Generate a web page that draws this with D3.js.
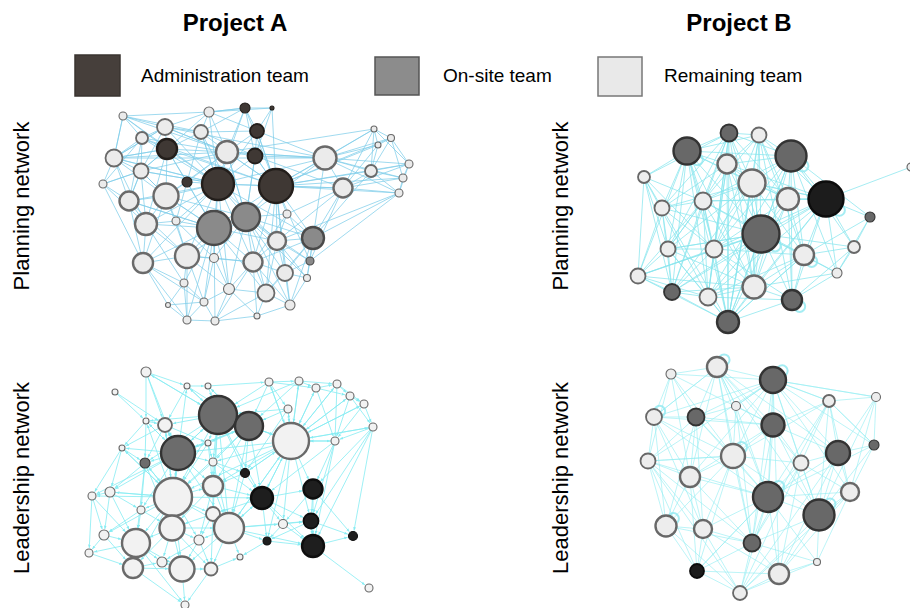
<!DOCTYPE html>
<html>
<head>
<meta charset="utf-8">
<script src="https://cdn.jsdelivr.net/npm/d3@7"></script>
<style>
  html, body { margin: 0; padding: 0; background: #ffffff; }
  svg { display: block; }
  text { font-family: "Liberation Sans", Arial, Helvetica, sans-serif; fill: #000; }
</style>
</head>
<body>
<svg id="chart" width="910" height="608"></svg>
<script>
// ---- Data ---------------------------------------------------------------
// Column headers, row labels and team legend
const projects = ["Project A", "Project B"];
const networks = ["Planning network", "Leadership network"];
const teams = ["Administration team", "On-site team", "Remaining team"];

// Node layouts per panel: [x, y, size, team] in panel layout units
const nodesAPlan = [
  [23,16,4,"R"],[109,12,5,"R"],[145,8,5,"A"],[172,8,2,"A"],[65,27,8,"R"],
  [101,32,7,"R"],[157,31,7,"A"],[42,38,6,"R"],[67,49,10,"A"],[127,52,11,"R"],
  [155,56,7.5,"A"],[225,58,11.5,"R"],[14,58,8.5,"R"],[274,29,3,"R"],[291,38,3.5,"R"],
  [278,45,3,"R"],[41,71,7.5,"R"],[87,82,5,"A"],[118,84,16,"A"],[176,86,17,"A"],
  [271,71,6,"R"],[309,64,4,"R"],[303,78,4,"R"],[299,93,4,"R"],[3,84,4,"R"],
  [66,96,12.5,"R"],[243,88,9.5,"R"],[29,101,9.5,"R"],[146,117,14,"O"],[187,114,4,"R"],
  [114,128,17,"O"],[46,124,11,"R"],[76,121,4,"R"],[177,141,9,"R"],[213,138,11,"O"],
  [87,156,12,"R"],[114,158,4.5,"R"],[43,163,10,"R"],[153,162,9.5,"R"],[210,161,4,"O"],
  [185,173,8,"R"],[207,178,3.5,"R"],[84,183,4,"R"],[129,189,5.5,"R"],[166,193,8.5,"R"],
  [104,202,4,"R"],[68,205,2.5,"R"],[190,205,5,"R"],[157,216,3,"R"],[87,220,4,"R"],
  [115,221,4,"R"]
];
const linksAPlan =
  "0>4 7 12 8 1 5 9;1>2 5 4 9 8 6 3;2>3 6 1 9 10 5 18;3>6 10 19;4>7 8 5 9 12 16 18 11;" +
  "5>9 8 6 18 10 17;6>10 9 19 18 11;7>12 16 8 24 27 9 19;8>9 17 18 16 12 25 30 19 31;" +
  "9>18 19 10 11 17 28 25 4 12 16;10>19 11 18 28 26;11>19 13 14 15 20 26 21 22 23 34 18 9 28 12;" +
  "12>24 27 16 25 31 18 4 8 0;13>14 15 20 26 21 9 19;14>15 21 22 20 19;15>20 26 19;" +
  "16>27 25 18 8 31 24;17>18 25 30 32;18>19 28 30 25 31 35 33 26 34 0 1 5 7 12 16 27 37 43 36 38 32;" +
  "19>28 26 34 33 20 29 30 22 23 2 6 9 10 21 38 40 44 47 39;20>21 22 23 26 34;" +
  "21>22 23 26;22>23 26;23>26 34 39 33;24>27 31 37 16;25>27 31 30 32 35 28 37 16;26>34 29 39 33;" +
  "27>31 37 30 35 16;28>30 33 38 29 34 35 36 44 40 9 10 5 43 47 39 41;29>33 34 38;" +
  "30>35 31 36 38 43 37 33 42 25 27 44 45 49 50 32;" +
  "31>37 35 32 42;32>35 36;33>34 38 40 44 39 41;34>39 40 41 44 38 47;35>37 42 36 43 45 49 38;" +
  "36>43 38 45;37>42 46 49 45;38>44 43 40 47 48 50;39>41 40;40>41 47 44;41>47;42>46 49 45;" +
  "43>45 50 44 48;44>47 48 50;45>49 50 46;46>49;47>48;48>50;49>50";

const nodesBPlan = [
  [99,13,8.5,"O"],[129,15,7.5,"R"],[57,31,13.5,"O"],[161,36,15.5,"O"],[97,44,9.5,"R"],
  [122,63,13.5,"R"],[14,57,6,"R"],[158,79,11,"R"],[196,79,17.5,"A"],[281,47,4,"R"],
  [240,97,5,"O"],[32,88,7.5,"R"],[73,81,8.5,"R"],[131,114,18.5,"O"],[38,129,7.5,"R"],
  [84,129,8.5,"R"],[174,135,10,"R"],[224,127,6,"R"],[207,153,5,"R"],[8,156,7.5,"R"],
  [42,172,8,"O"],[78,177,8.5,"R"],[124,167,11.5,"R"],[162,180,10,"O"],[98,202,11,"O"]
];
const linksBPlan =
  "0>1 2 3 4 5 12 13 15 7 22 6 11 14 20 21 24;1>3 4 5 7 13 8 12 16 2 15 22 24 23;" +
  "2>4 6 11 12 5 13 14 15 21 19 3 24 20 22 7;3>4 5 7 8 13 16 12 22 23 10 15 24 21 18 17;" +
  "4>5 12 13 15 11 7 21 22;5>7 8 12 13 15 16 22 14 20 24;6>11 12 19 14 20 21 15;" +
  "7>8 13 16 12 15 22 23;8>9 10 13 16 17 18 23 22 12 15 7 5 4 24 20 21;10>17 18 16;" +
  "11>12 14 19 13 15 20 5;12>13 14 15 19 20 21 22 16;13>14 15 16 17 18 19 20 21 22 23 24;" +
  "14>19 20 21 15 24 22 13 12;15>20 21 22 24 16 23;16>17 18 23 22 24 21;17>18 23;18>23 22;" +
  "19>20 21 24 13 15 22;20>21 24 22;21>22 24 23;22>23 24;23>24;24>16 12 11 7 5 4";
const loopsBPlan = [2, 3, 8, 13, 16, 23];

const nodesALead = [
  [66,12,5,"R"],[35,32,3,"R"],[107,26,3,"R"],[128,26,3,"R"],[189,22,4,"R"],
  [219,21,4,"R"],[236,28,4,"R"],[257,24,4,"R"],[270,36,4,"R"],[284,44,4,"R"],
  [293,67,4,"R"],[208,49,4,"R"],[138,55,19,"O"],[169,66,14,"O"],[211,81,18,"R"],
  [255,81,4,"R"],[66,61,3,"R"],[85,65,7,"R"],[98,93,17,"O"],[128,83,3,"R"],
  [42,88,3,"R"],[65,103,5,"O"],[133,102,4,"R"],[165,113,4.5,"A"],[93,137,19,"R"],
  [133,126,10,"R"],[182,138,11,"A"],[233,129,9.5,"A"],[30,132,5,"R"],[12,136,4,"R"],
  [61,150,4,"R"],[133,154,7,"R"],[92,168,12.5,"R"],[149,168,15,"R"],[203,164,4.5,"R"],
  [231,161,7.5,"A"],[24,175,5,"R"],[56,183,14,"R"],[187,181,4,"A"],[119,180,5,"R"],
  [233,186,11,"A"],[273,176,4.5,"A"],[9,193,4,"R"],[53,208,10,"R"],[82,202,5,"R"],
  [102,209,12.5,"R"],[131,209,6.5,"R"],[160,197,3,"R"],[289,228,4,"R"],[105,245,4,"R"]
];
const linksALead =
  "0>16 2 17 12 18;1>17 16;2>12 17 3 13;3>12 13 4;4>13 12 14 5 11 6;5>14 13 6 7 12;" +
  "6>14 15 8 7;7>8 14 15 9;8>9 15 14 10;9>10 15 14;10>15 14 27 35 40 41;11>13 14 12 23;" +
  "12>13 17 18 19 16 22 14 25 24 23 26 2 0 21 31 33;13>14 23 18 19 25 26 22 24 33 12 3;" +
  "14>15 23 26 27 25 33 22 11 35 18 24 4 5 6 7 8 9 10 12 34 38;15>27 35 40 14 26;" +
  "16>17 20 21 18;17>18 20 21 19 24;18>19 20 21 22 24 25 28 29 30 32 13 33 12 17 16 2;" +
  "19>22 25 24;20>21 28 29 24;21>24 28 30 32 37;22>25 23 26 24 33;23>26 25 33 14;" +
  "24>25 28 29 30 31 32 33 36 37 39 26 43 45 17 18 16 20 21;25>26 31 33 32 39;" +
  "26>27 33 34 35 38 40 31 14;27>35 40 41 34;28>29 30 36 37 24;29>36 42 37;30>32 37 36;" +
  "31>33 39 32 46;32>33 37 39 43 44 45 46;33>34 38 39 45 46 47 26 14 35 40;34>35 38 40;35>40 41 38;" +
  "36>37 42 43;37>42 43 44 45 49;38>40 47;39>45 46 44;40>41 48;42>43;43>44 45 49;44>45;" +
  "45>46 49;46>47 49";

const nodesBLead = [
  [41,14,5,"R"],[87,7,10,"R"],[143,20,13,"O"],[246,37,4.5,"R"],[199,41,6,"R"],
  [106,46,4.5,"R"],[24,57,8,"R"],[66,57,8.5,"O"],[143,65,11.5,"O"],[244,85,5,"O"],
  [208,93,12,"O"],[103,96,12,"R"],[171,103,7.5,"R"],[18,101,7.5,"R"],[60,117,10,"R"],
  [138,137,15,"O"],[220,132,9,"R"],[189,155,15.5,"O"],[36,166,10.5,"R"],[73,169,9,"R"],
  [122,183,8.5,"O"],[187,202,3.5,"R"],[67,211,7,"A"],[149,214,10,"R"],[110,233,7,"R"]
];
const linksBLead =
  "0>1 6 7 2 11 13 8 14;1>2 5 7 6 8 11 14 12 15 17 20 10;2>4 3 8 5 11 10 12 15 16 17 7 14 13 20 23;" +
  "3>4 9 10 16 2 17;4>8 10 12 9 16 17 15 2 11 20;5>8 11 7 2 15 20 1;6>7 13 11 14 18 8 1 2 15 19;" +
  "7>11 14 13 8 15 19 18;8>11 12 15 10 14 17 20;9>10 16 17 4 2 15;10>12 16 17 15 23;" +
  "11>14 15 12 19 18 20 13 17;12>15 16 17 23 20;13>14 18 19 22 15 20 24 11;" +
  "14>18 19 15 20 22;15>17 19 20 23 24 16 21 22;16>17 21 23;17>20 21 23 24;18>19 22 24 20;" +
  "19>20 22 24 23;20>22 23 24 21;21>23 24;22>24 11 15 23;23>24;24>12 16 10";
const loopsBLead = [1, 2, 6, 11, 15, 17, 18];

// ---- Styling --------------------------------------------------------------
const paletteA = {
  A: { fill: "#3f3834", stroke: "#231e1b" },
  O: { fill: "#8a8a8a", stroke: "#4a4a4a" },
  R: { fill: "#ebebeb", stroke: "#6a6a6a" }
};
const paletteB = {
  A: { fill: "#1c1c1c", stroke: "#0c0c0c" },
  O: { fill: "#686868", stroke: "#333333" },
  R: { fill: "#ededed", stroke: "#686868" }
};
const paletteALead = {
  A: { fill: "#1e1e1e", stroke: "#0e0e0e" },
  O: { fill: "#6c6c6c", stroke: "#333333" },
  R: { fill: "#f2f2f2", stroke: "#6a6a6a" }
};

const panels = [
  { nodes: nodesAPlan, links: linksAPlan, loops: [], ox: 100, oy: 100, w: 320, h: 230,
    pal: paletteA, edge: "#80cde9", edgeOp: 0.75, arrows: false, loopAng: 0 },
  { nodes: nodesBPlan, links: linksBPlan, loops: loopsBPlan, ox: 630, oy: 120, w: 290, h: 220,
    pal: paletteB, edge: "#88e6ee", edgeOp: 0.75, arrows: false, loopAng: 40 },
  { nodes: nodesALead, links: linksALead, loops: [], ox: 80, oy: 360, w: 310, h: 250,
    pal: paletteALead, edge: "#86ecf3", edgeOp: 0.8, arrows: true, loopAng: 0 },
  { nodes: nodesBLead, links: linksBLead, loops: loopsBLead, ox: 630, oy: 360, w: 260, h: 245,
    pal: paletteB, edge: "#98eef2", edgeOp: 0.65, arrows: false, loopAng: -45 }
];

function parseLinks(str) {
  const out = [];
  str.split(";").forEach(part => {
    const [s, ts] = part.split(">");
    ts.trim().split(/\s+/).forEach(t => out.push([+s, +t]));
  });
  return out;
}

const svg = d3.select("#chart");
const defs = svg.append("defs");
defs.append("marker")
  .attr("id", "arrow")
  .attr("viewBox", "0 0 10 10")
  .attr("refX", 10).attr("refY", 5)
  .attr("markerWidth", 3.5).attr("markerHeight", 3.5)
  .attr("orient", "auto")
  .append("path").attr("d", "M0,1 L10,5 L0,9 Z").attr("fill", "#86ecf3");

// ---- Titles, legend, row labels -----------------------------------------
const titleX = [235, 739];
svg.selectAll("text.title").data(projects).join("text")
  .attr("class", "title")
  .attr("x", (d, i) => titleX[i]).attr("y", 31)
  .attr("text-anchor", "middle")
  .style("font-size", "24px").style("font-weight", "bold")
  .text(d => d);

const legendBox = [
  { x: 75, y: 55, w: 45, h: 41, fill: "#463f3b", stroke: "#3a3431", tx: 141 },
  { x: 375, y: 57, w: 44, h: 38, fill: "#8c8c8c", stroke: "#555555", tx: 443 },
  { x: 598, y: 57, w: 44, h: 39, fill: "#e9e9e9", stroke: "#777777", tx: 664 }
];
const legend = svg.append("g").attr("class", "legend");
legend.selectAll("rect").data(teams).join("rect")
  .attr("x", (d, i) => legendBox[i].x).attr("y", (d, i) => legendBox[i].y)
  .attr("width", (d, i) => legendBox[i].w).attr("height", (d, i) => legendBox[i].h)
  .attr("fill", (d, i) => legendBox[i].fill)
  .attr("stroke", (d, i) => legendBox[i].stroke).attr("stroke-width", 1.5);
legend.selectAll("text").data(teams).join("text")
  .attr("x", (d, i) => legendBox[i].tx).attr("y", 82)
  .style("font-size", "19px")
  .text(d => d);

const rowY = [206, 478];
const colX = [29, 568];
colX.forEach(cx => {
  networks.forEach((n, j) => {
    svg.append("text")
      .attr("transform", `translate(${cx},${rowY[j]}) rotate(-90)`)
      .attr("text-anchor", "middle")
      .style("font-size", "22px")
      .text(n);
  });
});

// ---- Network panels -------------------------------------------------------
panels.forEach(p => {
  const x = d3.scaleLinear().domain([0, p.w]).range([p.ox, p.ox + p.w]);
  const y = d3.scaleLinear().domain([0, p.h]).range([p.oy, p.oy + p.h]);
  const r = d3.scaleLinear().domain([0, 20]).range([0, 20]);
  const nodes = p.nodes.map(([nx, ny, s, t]) => ({ x: x(nx), y: y(ny), r: r(s), team: t }));
  const links = parseLinks(p.links);
  const g = svg.append("g");

  g.append("g").selectAll("line").data(links).join("line")
    .each(function ([s, t]) {
      const a = nodes[s], b = nodes[t];
      let x2 = b.x, y2 = b.y;
      if (p.arrows) {
        const dx = b.x - a.x, dy = b.y - a.y, len = Math.hypot(dx, dy) || 1;
        x2 = b.x - dx / len * (b.r + 1);
        y2 = b.y - dy / len * (b.r + 1);
      }
      d3.select(this).attr("x1", a.x).attr("y1", a.y).attr("x2", x2).attr("y2", y2);
    })
    .attr("stroke", p.edge).attr("stroke-opacity", p.edgeOp).attr("stroke-width", 1)
    .attr("marker-end", p.arrows ? "url(#arrow)" : null);

  // self-loops drawn as small rings at the node edge
  const ang = p.loopAng * Math.PI / 180;
  g.append("g").selectAll("circle").data(p.loops).join("circle")
    .attr("cx", i => nodes[i].x + Math.cos(ang) * nodes[i].r)
    .attr("cy", i => nodes[i].y + Math.sin(ang) * nodes[i].r)
    .attr("r", 5.5)
    .attr("fill", "none").attr("stroke", "#8fe9f0").attr("stroke-width", 2).attr("stroke-opacity", 0.8);

  g.append("g").selectAll("circle").data(nodes).join("circle")
    .attr("cx", d => d.x).attr("cy", d => d.y).attr("r", d => d.r)
    .attr("fill", d => p.pal[d.team].fill)
    .attr("stroke", d => p.pal[d.team].stroke)
    .attr("stroke-width", d => d.r >= 9 ? 2.4 : d.r >= 6 ? 1.8 : 1.1);
});
</script>
</body>
</html>
